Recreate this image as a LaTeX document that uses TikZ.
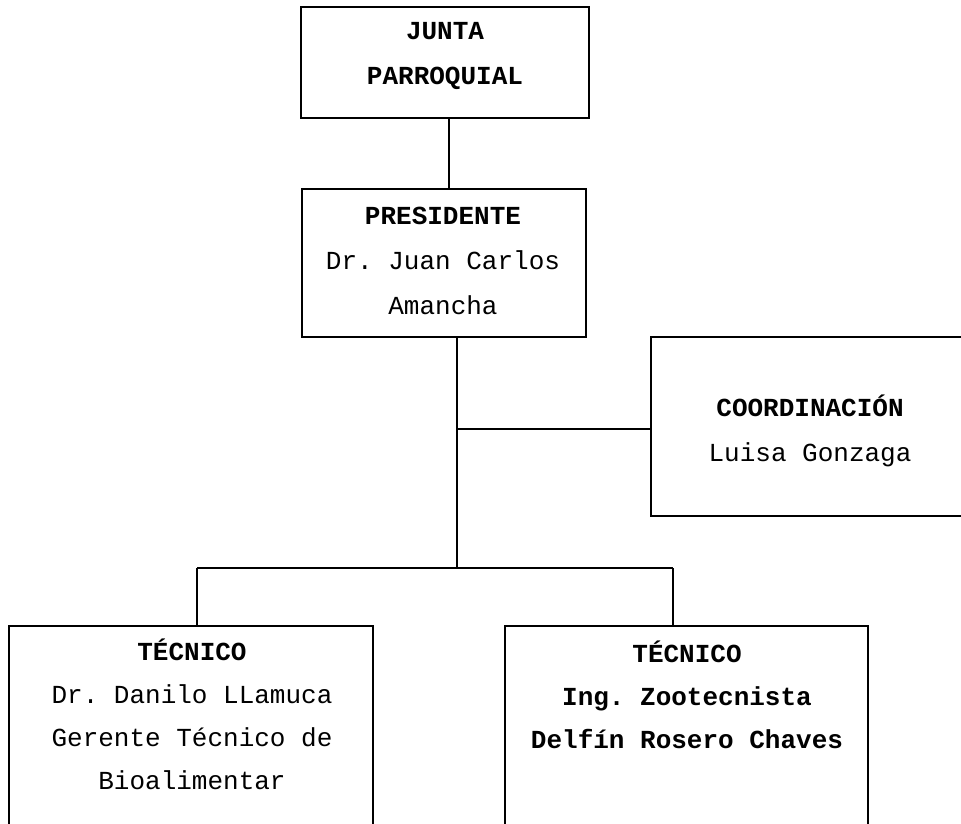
\documentclass[tikz,border=0pt]{standalone}
\usepackage{fontspec}
\setmainfont{Liberation Mono}
\usepackage{tikz}

\begin{document}
\frenchspacing
\begin{tikzpicture}[x=0.5pt, y=-0.5pt, line width=0.7pt,
	caja/.style={shape=rectangle, draw=black, inner sep=0pt},
	texto/.style={align=center, inner sep=0pt, font=\fontsize{13}{22.5}\selectfont},
	textobajo/.style={texto, font=\fontsize{13}{21.5}\selectfont}]
	
	\useasboundingbox (0,0) rectangle (961,823);
	\clip (0,0) rectangle (961,823);
	
	\node[caja, minimum width=144pt, minimum height=55.5pt] (junta) at (445,62.5) {};
	\node[caja, minimum width=142pt, minimum height=74pt]   (pres)  at (444,263)  {};
	\node[caja, minimum width=160pt, minimum height=89.5pt] (coord) at (811,426.5) {};
	\node[caja, minimum width=182pt, minimum height=110pt]  (tec1)  at (191,736)  {};
	\node[caja, minimum width=181.5pt, minimum height=110pt] (tec2) at (686.5,736) {};
	
	\node[texto] (tjunta) at (445,56)  {\textbf{JUNTA}\\\textbf{PARROQUIAL}};
	\node[texto] (tpres)  at (443,261) {\textbf{PRESIDENTE}\\Dr. Juan Carlos\\Amancha};
	\node[texto] (tcoord) at (810,431) {\textbf{COORDINACIÓN}\\Luisa Gonzaga};
	\node[textobajo] (ttec1) at (192,714) {\textbf{TÉCNICO}\\Dr. Danilo LLamuca\\Gerente Técnico de\\Bioalimentar};
	\node[textobajo] (ttec2) at (687,695) {\textbf{TÉCNICO}\\\textbf{Ing. Zootecnista}\\\textbf{Delfín Rosero Chaves}};
	
	\coordinate (jx)   at (449,0);
	\coordinate (px)   at (457,0);
	\coordinate (rama) at (457,429);
	\coordinate (bus)  at (457,568);
	\coordinate (bus1) at (197,568);
	\coordinate (bus2) at (673,568);
	
	\draw (junta.south -| jx) -- (pres.north -| jx);
	\draw (pres.south -| px) -- (bus);
	\draw (rama) -- (coord.west |- rama);
	\draw (bus1) -- (bus2);
	\draw (bus1) -- (tec1.north -| bus1);
	\draw (bus2) -- (tec2.north -| bus2);
	
\end{tikzpicture}
\end{document}
